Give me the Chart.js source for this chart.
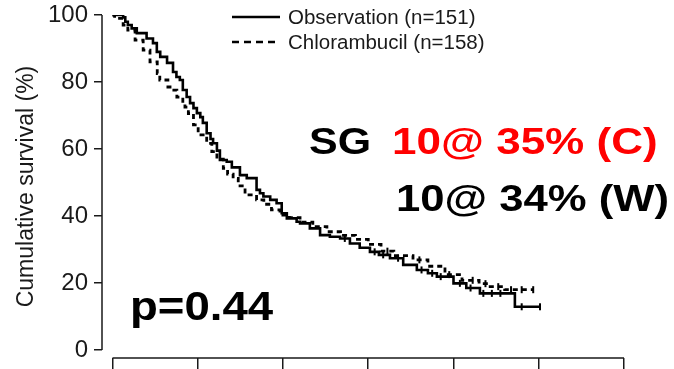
<!DOCTYPE html>
<html>
<head>
<meta charset="utf-8">
<script src="https://cdn.jsdelivr.net/npm/chart.js@4/dist/chart.umd.min.js"></script>
<style>
  html, body { margin: 0; padding: 0; background: #fff; }
  canvas { display: block; }
</style>
</head>
<body>
<canvas id="km" width="674" height="369"></canvas>
<script>
// Follow-up time (years) and Kaplan-Meier survival (%) at each step
const obsTime = [0, 0.25, 0.30, 0.36, 0.45, 0.57, 0.80, 0.95, 1.04, 1.12, 1.28, 1.42, 1.50, 1.58, 1.65, 1.74, 1.82, 1.90, 1.98, 2.06, 2.12, 2.21, 2.30, 2.36, 2.45, 2.52, 2.68, 2.80, 2.99, 3.15, 3.38, 3.46, 3.54, 3.70, 3.85, 3.97, 4.09, 4.32, 4.40, 4.63, 4.87, 5.10, 5.34, 5.57, 5.80, 6.04, 6.25, 6.51, 6.82, 7.14, 7.40, 7.61, 8.00, 8.30, 8.62, 9.44, 10.03];
const obsSurv = [100, 99.3, 98, 97, 96, 94.6, 93, 91.6, 89, 87.5, 85.7, 83, 81.5, 80.6, 77.6, 75.5, 73.7, 72.2, 70.7, 69.5, 67.8, 64.7, 63, 61.7, 59.5, 56.7, 56.2, 54.5, 52.2, 51.3, 47.8, 46.8, 45.8, 44.8, 43.8, 40.8, 39.3, 38.3, 37.8, 36.3, 34.3, 33.8, 33.3, 31.8, 30.5, 29.3, 28.4, 27.4, 25.4, 23.9, 22.9, 21.9, 19.9, 18.5, 16.9, 12.9, 12.9];
// censored observations (years)
const obsCensor = [5.45, 6.15, 6.35, 6.7, 7.25, 7.5, 7.7, 8.15, 8.4, 8.7, 8.9, 9.1, 9.6, 10.03];

const chlTime = [0, 0.05, 0.25, 0.36, 0.53, 0.72, 0.88, 1.05, 1.11, 1.30, 1.35, 1.51, 1.65, 1.70, 1.78, 1.90, 2.01, 2.21, 2.33, 2.45, 2.60, 2.70, 2.83, 2.95, 3.11, 3.38, 3.55, 3.73, 3.93, 4.15, 4.40, 4.70, 5.03, 5.35, 5.70, 6.00, 6.30, 6.60, 7.05, 7.40, 7.80, 8.20, 8.60, 8.86, 9.20, 9.87];
const chlSurv = [100, 99, 97, 95.5, 92.5, 89.5, 86, 82.5, 80.6, 78.5, 77.6, 75.5, 73.5, 72.5, 70.6, 67.2, 64.2, 61.7, 59.2, 57, 54.2, 52.5, 51.2, 49, 46.3, 44.8, 43.5, 41.8, 40.3, 39.5, 38.2, 36.8, 35.3, 34.2, 33, 31.5, 29.5, 28.2, 26.9, 25, 22.5, 20.8, 19.8, 18.9, 18, 18];
const chlCensor = [6.45, 7.2, 7.9, 8.45, 8.75, 9.05, 9.35, 9.6, 9.87];

const timeTicks = [0, 2, 4, 6, 8, 10, 12];
const survTicks = [0, 20, 40, 60, 80, 100];

const seriesNames = ['Observation (n=151)', 'Chlorambucil (n=158)'];
const pValueText = 'p=0.44';
const medianLabel = 'SG';
const medianLines = ['10@ 35% (C)', '10@ 34% (W)'];

const toPoints = (t, s) => t.map((x, i) => ({ x, y: s[i] }));
// survival level of a step curve at time t (for placing censor ticks on the curve)
const levelAt = (times, surv, t) => {
  let v = surv[0];
  for (let i = 0; i < times.length; i++) if (times[i] <= t) v = surv[i];
  return v;
};
const censorPoints = (c, times, surv) => c.map(t => ({ x: t, y: levelAt(times, surv, t) }));

const INK = '#1a1a1a';
const SANS = '"Liberation Sans", Arial, sans-serif';

// Detached R-style axis lines spanning only the tick range
const axisLines = {
  id: 'axisLines',
  afterDraw(chart) {
    const { ctx, chartArea, scales } = chart;
    const x = scales.x, y = scales.y;
    ctx.save();
    ctx.strokeStyle = INK;
    ctx.lineWidth = 1.5;
    ctx.beginPath();
    ctx.moveTo(chartArea.left, y.getPixelForValue(survTicks[0]));
    ctx.lineTo(chartArea.left, y.getPixelForValue(survTicks[survTicks.length - 1]));
    ctx.moveTo(x.getPixelForValue(timeTicks[0]), chartArea.bottom);
    ctx.lineTo(x.getPixelForValue(timeTicks[timeTicks.length - 1]), chartArea.bottom);
    ctx.stroke();
    ctx.restore();
  }
};

// Legend and bold annotations
const annotations = {
  id: 'annotations',
  afterDraw(chart) {
    const ctx = chart.ctx;
    ctx.save();
    // legend
    ctx.strokeStyle = '#000';
    ctx.lineWidth = 2.4;
    ctx.beginPath();
    ctx.moveTo(232, 17); ctx.lineTo(280, 17);
    ctx.stroke();
    ctx.setLineDash([7, 5]);
    ctx.beginPath();
    ctx.moveTo(232, 42); ctx.lineTo(280, 42);
    ctx.stroke();
    ctx.setLineDash([]);
    ctx.fillStyle = INK;
    ctx.font = '20.5px ' + SANS;
    ctx.textBaseline = 'middle';
    ctx.textAlign = 'left';
    ctx.fillText(seriesNames[0], 288, 18);
    ctx.fillText(seriesNames[1], 288, 43);

    const wide = (text, x, y, size, color, sx) => {
      ctx.save();
      ctx.translate(x, y);
      ctx.scale(sx, 1);
      ctx.font = 'bold ' + size + 'px ' + SANS;
      ctx.fillStyle = color;
      ctx.textBaseline = 'alphabetic';
      ctx.fillText(text, 0, 0);
      ctx.restore();
    };
    wide(medianLabel, 309, 154, 37, '#000', 1.16);
    wide(medianLines[0], 392, 154, 37, '#ff0000', 1.19);
    wide(medianLines[1], 396, 211, 37, '#000', 1.18);
    wide(pValueText, 130, 320, 40, '#000', 1.14);
    ctx.restore();
  }
};

const censorStyle = {
  type: 'scatter',
  showLine: false,
  pointStyle: 'line',
  rotation: 90,
  pointRadius: 3.5,
  pointBorderWidth: 2,
  borderColor: '#000',
  backgroundColor: '#000'
};

new Chart(document.getElementById('km'), {
  type: 'line',
  data: {
    datasets: [
      {
        label: seriesNames[1],
        data: toPoints(chlTime, chlSurv),
        borderColor: '#000',
        borderWidth: 2.8,
        borderDash: [5, 4],
        stepped: 'before',
        pointRadius: 0,
        fill: false
      },
      Object.assign({ label: seriesNames[1] + ' censored', data: censorPoints(chlCensor, chlTime, chlSurv) }, censorStyle),
      {
        label: seriesNames[0],
        data: toPoints(obsTime, obsSurv),
        borderColor: '#000',
        borderWidth: 2.6,
        stepped: 'before',
        pointRadius: 0,
        fill: false
      },
      Object.assign({ label: seriesNames[0] + ' censored', data: censorPoints(obsCensor, obsTime, obsSurv) }, censorStyle)
    ]
  },
  options: {
    responsive: false,
    animation: false,
    layout: { padding: { top: 15, right: 50, left: 0, bottom: 0 } },
    plugins: { legend: { display: false }, tooltip: { enabled: false } },
    scales: {
      x: {
        type: 'linear',
        min: -0.246,
        max: 12,
        afterBuildTicks: s => { s.ticks = timeTicks.map(v => ({ value: v })); },
        afterFit: s => { s.height = 11; s.paddingLeft = 0; s.paddingRight = 0; },
        ticks: { display: false },
        grid: { drawOnChartArea: false, drawTicks: true, tickLength: 11, color: INK, lineWidth: 1.5 },
        border: { display: false }
      },
      y: {
        type: 'linear',
        min: -2.39,
        max: 100,
        afterBuildTicks: s => { s.ticks = survTicks.map(v => ({ value: v })); },
        afterFit: s => { s.width = 102; s.paddingTop = 0; s.paddingBottom = 0; },
        ticks: { font: { family: SANS, size: 24 }, color: INK, padding: 6 },
        grid: { drawOnChartArea: false, drawTicks: true, tickLength: 8, color: INK, lineWidth: 1.5 },
        border: { display: false },
        title: {
          display: true,
          text: 'Cumulative survival (%)',
          font: { family: SANS, size: 23 },
          color: INK,
          padding: { top: 13, bottom: 0 }
        }
      }
    }
  },
  plugins: [axisLines, annotations]
});
</script>
</body>
</html>
